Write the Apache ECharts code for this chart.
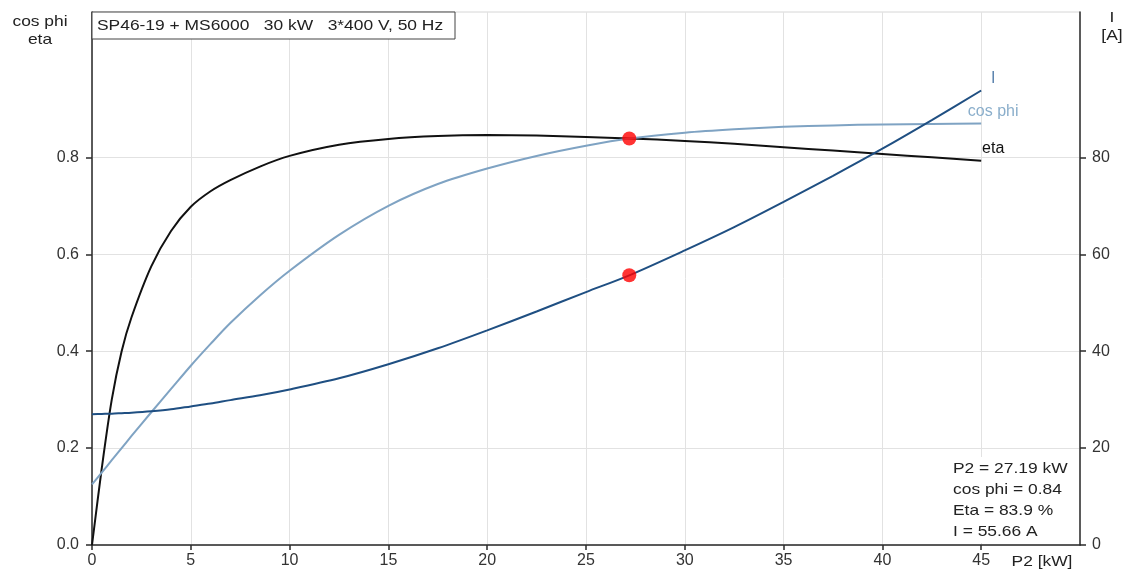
<!DOCTYPE html>
<html>
<head>
<meta charset="utf-8">
<script src="https://cdn.jsdelivr.net/npm/echarts@6/dist/echarts.min.js"></script>
<style>
html,body{margin:0;padding:0;background:#fff;}
#chart{width:1130px;height:574px;}
</style>
</head>
<body>
<div id="chart"></div>
<script>
// ---- data ----
const p2 = [0, 0.5, 1, 1.5, 2, 3, 4, 5, 6, 7, 8.5, 10, 12.5, 15, 17.5, 20, 22.5, 25, 27.19, 30, 32.5, 35, 37.5, 40, 42.5, 45];
const eta = [0, 0.16, 0.30, 0.40, 0.47, 0.575, 0.648, 0.698, 0.73, 0.753, 0.781, 0.803, 0.826, 0.838, 0.844, 0.846, 0.845, 0.842, 0.839, 0.834, 0.828, 0.821, 0.814, 0.807, 0.800, 0.793];
const cosPhi = [0.125, 0.15, 0.175, 0.20, 0.225, 0.274, 0.322, 0.37, 0.415, 0.458, 0.515, 0.566, 0.64, 0.70, 0.745, 0.777, 0.803, 0.824, 0.839, 0.851, 0.858, 0.863, 0.866, 0.868, 0.869, 0.870];
const current = [27.0, 27.05, 27.1, 27.2, 27.3, 27.6, 28.0, 28.6, 29.2, 29.9, 30.9, 32.1, 34.4, 37.3, 40.6, 44.3, 48.2, 52.2, 55.66, 60.8, 65.6, 70.8, 76.2, 81.8, 87.7, 93.8];
const opP2 = 27.19, opCosPhi = 0.84, opEta = 83.9, opI = 55.66;
const xTicks = [0, 5, 10, 15, 20, 25, 30, 35, 40, 45];
const leftTicks = [0, 0.2, 0.4, 0.6, 0.8];
const rightTicks = [0, 20, 40, 60, 80];
const titleText = 'SP46-19 + MS6000   30 kW   3*400 V, 50 Hz';

const FAMILY = 'Liberation Sans';
const pairs = (xs, ys) => xs.map((x, i) => [x, ys[i]]);

const chart = echarts.init(document.getElementById('chart'), null, {renderer: 'canvas'});
const axisLineStyle = {color: '#2b2b2b', width: 1.5};
const labelStyle = {color: '#333', fontSize: 16, fontFamily: FAMILY};
const txt = (extra) => Object.assign({fontSize: 14.5, fontFamily: FAMILY, fill: '#222'}, extra);

const option = {
  animation: false,
  backgroundColor: '#fff',
  grid: {left: 92, right: 50, top: 12, bottom: 29, show: true, borderColor: '#d6d6d6', borderWidth: 1},
  xAxis: {
    type: 'value', min: 0, max: 50, interval: 5,
    axisLine: {show: true, lineStyle: axisLineStyle},
    axisTick: {show: true, length: 5, lineStyle: axisLineStyle, customValues: xTicks},
    axisLabel: Object.assign({margin: 8, customValues: xTicks, formatter: v => String(v)}, labelStyle),
    splitLine: {show: true, lineStyle: {color: '#e2e2e2', width: 1}}
  },
  yAxis: [{
    type: 'value', min: 0, max: 1.1, interval: 0.1, position: 'left',
    axisLine: {show: true, lineStyle: axisLineStyle},
    axisTick: {show: true, length: 6, lineStyle: axisLineStyle, customValues: leftTicks},
    axisLabel: Object.assign({margin: 13, customValues: leftTicks, formatter: v => v.toFixed(1)}, labelStyle),
    splitLine: {show: true, lineStyle: {color: '#e2e2e2', width: 1}}
  }, {
    type: 'value', min: 0, max: 110, interval: 10, position: 'right',
    axisLine: {show: true, lineStyle: axisLineStyle},
    axisTick: {show: true, length: 6, lineStyle: axisLineStyle, customValues: rightTicks},
    axisLabel: Object.assign({margin: 12, customValues: rightTicks, formatter: v => String(Math.round(v))}, labelStyle),
    splitLine: {show: false}
  }],
  series: [
    {
      name: 'eta', type: 'line', yAxisIndex: 0, data: pairs(p2, eta), smooth: 0.3,
      showSymbol: false, lineStyle: {color: '#111', width: 2}, z: 3,
      endLabel: {show: true, formatter: 'eta', color: '#111', fontSize: 16, fontFamily: FAMILY,
                 distance: 0, align: 'center', verticalAlign: 'middle', offset: [12, -12]}
    },
    {
      name: 'cos phi', type: 'line', yAxisIndex: 0, data: pairs(p2, cosPhi), smooth: 0.3,
      showSymbol: false, lineStyle: {color: '#7fa3c3', width: 2}, z: 3,
      endLabel: {show: true, formatter: 'cos phi', color: '#8aaecb', fontSize: 16, fontFamily: FAMILY,
                 distance: 0, align: 'center', verticalAlign: 'middle', offset: [12, -12]}
    },
    {
      name: 'I', type: 'line', yAxisIndex: 1, data: pairs(p2, current), smooth: 0.3,
      showSymbol: false, lineStyle: {color: '#1f4f82', width: 2}, z: 3,
      endLabel: {show: true, formatter: 'I', color: '#5a82ad', fontSize: 16, fontFamily: FAMILY,
                 distance: 0, align: 'center', verticalAlign: 'middle', offset: [12, -12]}
    },
    {
      name: 'op1', type: 'scatter', yAxisIndex: 0, data: [[opP2, eta[p2.indexOf(opP2)]]],
      symbolSize: 14, itemStyle: {color: '#ff0000'}, z: 5
    },
    {
      name: 'op2', type: 'scatter', yAxisIndex: 1, data: [[opP2, opI]],
      symbolSize: 14, itemStyle: {color: '#ff0000'}, z: 5
    }
  ],
  graphic: [
    {type: 'rect', shape: {x: 92, y: 12, width: 363, height: 27}, style: {fill: '#fff', stroke: '#444', lineWidth: 1}, z: 10},
    {type: 'text', x: 97, y: 26, scaleX: 1.2, z: 11,
     style: txt({text: titleText, verticalAlign: 'middle', align: 'left'})},
    {type: 'text', x: 40, y: 13, scaleX: 1.2, z: 11,
     style: txt({text: 'cos phi\neta', align: 'center', verticalAlign: 'top', lineHeight: 18})},
    {type: 'text', x: 1112, y: 9, scaleX: 1.2, z: 11,
     style: txt({text: 'I\n[A]', align: 'center', verticalAlign: 'top', lineHeight: 18})},
    {type: 'rect', shape: {x: 950, y: 457, width: 120, height: 86}, style: {fill: '#fff'}, z: 10},
    {type: 'text', x: 953, y: 458, scaleX: 1.2, z: 11,
     style: txt({text: 'P2 = ' + opP2.toFixed(2) + ' kW\ncos phi = ' + opCosPhi.toFixed(2) + '\nEta = ' + opEta.toFixed(1) + ' %\nI = ' + opI.toFixed(2) + ' A',
             align: 'left', verticalAlign: 'top', lineHeight: 21})},
    {type: 'text', x: 1042, y: 562, scaleX: 1.2, z: 11,
     style: txt({text: 'P2 [kW]', align: 'center', verticalAlign: 'middle'})}
  ]
};
chart.setOption(option);
</script>
</body>
</html>
